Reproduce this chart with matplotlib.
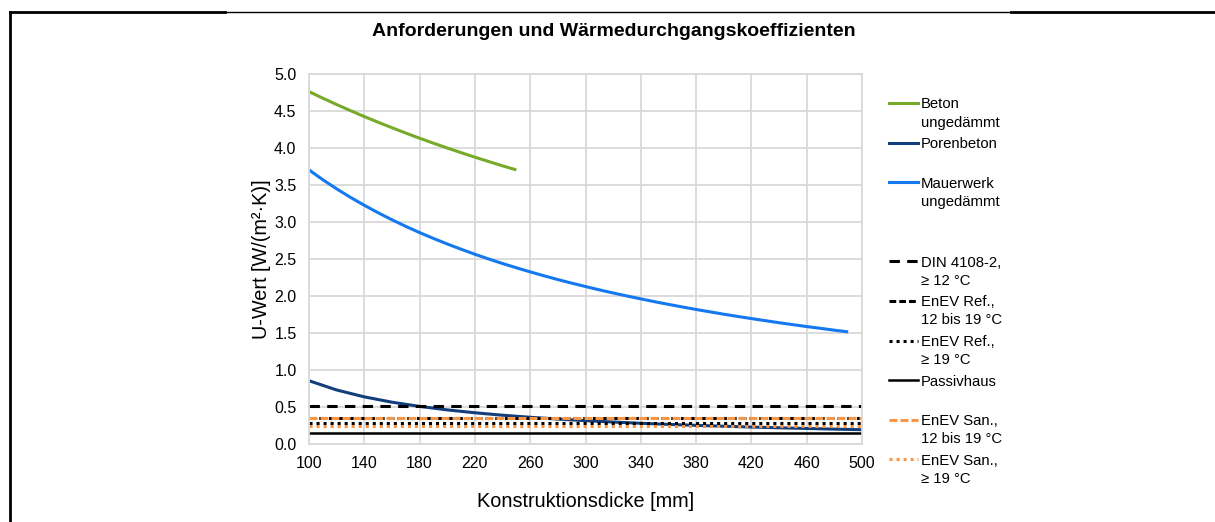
import numpy as np
import matplotlib
matplotlib.use("Agg")
import matplotlib.pyplot as plt
from matplotlib.lines import Line2D

plt.rcParams['font.family'] = ['Liberation Sans', 'DejaVu Sans']

dicke_beton = [100, 110, 120, 130, 140, 150, 160, 170, 180, 190, 200, 210, 220, 230, 240, 250]
u_beton = [4.762, 4.673, 4.587, 4.505, 4.425, 4.348, 4.274, 4.202, 4.132, 4.065,
           4.000, 3.937, 3.876, 3.817, 3.759, 3.704]

dicke_poren = [100, 120, 140, 160, 180, 200, 220, 240, 260, 280, 300,
               320, 340, 360, 380, 400, 420, 440, 460, 480, 500]
u_poren = [0.855, 0.730, 0.637, 0.565, 0.508, 0.461, 0.422, 0.389, 0.361, 0.337, 0.315,
           0.297, 0.280, 0.265, 0.252, 0.240, 0.229, 0.219, 0.210, 0.201, 0.193]

dicke_mauer = [100, 110, 120, 130, 140, 150, 160, 170, 180, 190, 200, 210, 220, 230,
               240, 250, 260, 270, 280, 290, 300, 310, 320, 330, 340, 350, 360, 370,
               380, 390, 400, 410, 420, 430, 440, 450, 460, 470, 480, 490]
u_mauer = [3.704, 3.571, 3.448, 3.333, 3.226, 3.125, 3.030, 2.941, 2.857, 2.778,
           2.703, 2.632, 2.564, 2.500, 2.439, 2.381, 2.326, 2.273, 2.222, 2.174,
           2.128, 2.083, 2.041, 2.000, 1.961, 1.923, 1.887, 1.852, 1.818, 1.786,
           1.754, 1.724, 1.695, 1.667, 1.639, 1.613, 1.587, 1.563, 1.538, 1.515]

# Anforderungen (konstant über die Dicke)
dicke_grenz = [100, 500]
grenz_namen = ["DIN 4108-2,\n≥ 12 °C", "EnEV Ref.,\n12 bis 19 °C", "EnEV Ref.,\n≥ 19 °C",
               "Passivhaus", "EnEV San.,\n12 bis 19 °C", "EnEV San.,\n≥ 19 °C"]
grenz_werte = [0.51, 0.35, 0.28, 0.15, 0.35, 0.24]

W, H = 1215, 522
fig = plt.figure(figsize=(W / 100, H / 100), dpi=100)
ax = fig.add_axes([309 / W, 1 - 444 / H, 553 / W, 370 / H])

lw = 2.2
kurven = [
    ("Beton\nungedämmt", dicke_beton, u_beton, dict(color="#78AA2A", ls="-")),
    ("Porenbeton", dicke_poren, u_poren, dict(color="#123F7C", ls="-")),
    ("Mauerwerk\nungedämmt", dicke_mauer, u_mauer, dict(color="#1479F0", ls="-")),
]
grenz_stile = [
    dict(color="black", ls=(0, (3.4, 2.4))),
    dict(color="black", ls=(0, (2.2, 1.0))),
    dict(color="black", ls=(0, (1.0, 1.3))),
    dict(color="black", ls="-", lw=1.8),
    dict(color="#F79646", ls=(0, (2.6, 1.0))),
    dict(color="#F79646", ls=(0, (1.0, 1.3))),
]

eintraege = []
for name, x, y, st in kurven:
    ax.plot(x, y, lw=lw, solid_capstyle="butt", **st)
    eintraege.append((name, st))
eintraege.append(None)  # leerer Platz in der Legende
for name, wert, st in zip(grenz_namen, grenz_werte, grenz_stile):
    st = dict(st)
    w = st.pop("lw", lw)
    ax.plot(dicke_grenz, [wert, wert], lw=w, **st)
    st["lw"] = w
    eintraege.append((name, st))

ax.set_xlim(100, 500)
ax.set_ylim(0, 5)
ax.set_xticks(np.arange(100, 501, 40))
ax.set_yticks(np.arange(0, 5.01, 0.5))
ax.set_yticklabels([f"{v:.1f}" for v in np.arange(0, 5.01, 0.5)])
ax.grid(color="#D9D9D9", lw=1.3)
ax.set_axisbelow(True)
for s in ax.spines.values():
    s.set_color("#D9D9D9")
    s.set_linewidth(1.3)
ax.tick_params(length=0, labelsize=11.5, pad=9)
ax.set_xlabel("Konstruktionsdicke [mm]", fontsize=14.3, labelpad=15)
ax.set_ylabel("U-Wert [W/(m²·K)]", fontsize=14.3, labelpad=2)

fig.text(614 / W, 1 - 32 / H, "Anforderungen und Wärmedurchgangskoeffizienten",
         ha="center", va="center", fontsize=14, fontweight="bold")

# Legende rechts, von Hand gesetzt
def fx(px):
    return px / W

def fy(py):
    return 1 - py / H

for i, e in enumerate(eintraege):
    if e is None:
        continue
    name, st = e
    y0 = 103 + i * 39.6
    fig.add_artist(Line2D([fx(889), fx(918)], [fy(y0), fy(y0)], transform=fig.transFigure,
                          color=st["color"], ls=st["ls"], lw=st.get("lw", lw)))
    for k, zeile in enumerate(name.split("\n")):
        fig.text(fx(921), fy(y0 + k * 18), zeile, ha="left", va="center_baseline", fontsize=10.7)

# Rahmen
fig.add_artist(Line2D([fx(10), fx(10)], [fy(12), 0], transform=fig.transFigure, color="black", lw=2))
fig.add_artist(Line2D([fx(10), fx(225)], [fy(12), fy(12)], transform=fig.transFigure, color="black", lw=2))
fig.add_artist(Line2D([fx(225), fx(1011)], [fy(12), fy(12)], transform=fig.transFigure, color="black", lw=1))
fig.add_artist(Line2D([fx(1011), 1], [fy(12), fy(12)], transform=fig.transFigure, color="black", lw=2))

fig.savefig("out.png", dpi=100)
